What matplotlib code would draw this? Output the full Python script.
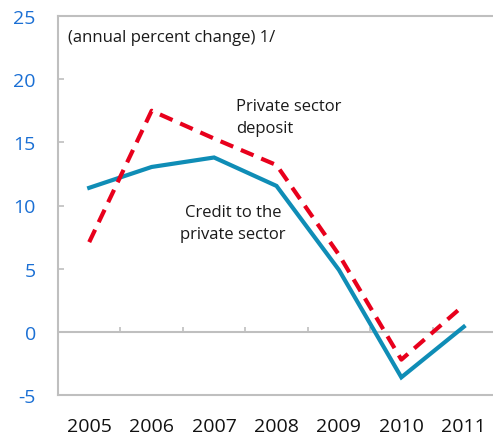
import numpy as np
import matplotlib
matplotlib.use("Agg")
import matplotlib.pyplot as plt

# annual percent change
years = ["2005", "2006", "2007", "2008", "2009", "2010", "2011"]
credit = [11.4, 13.05, 13.8, 11.55, 4.9, -3.6, 0.4]
deposit = [7.1, 17.5, 15.3, 13.2, 6.1, -2.2, 2.1]
yticks = [-5, 0, 5, 10, 15, 20, 25]

plt.rcParams["font.family"] = ["Open Sans", "DejaVu Sans"]

W, H = 493, 439
fig = plt.figure(figsize=(W / 100, H / 100), dpi=100)
ax = fig.add_axes([58 / W, (H - 396) / H, 437 / W, (396 - 17) / H])

x = np.arange(len(years))
ax.plot(x, credit, color="#0f8db6", lw=3, solid_joinstyle="miter", zorder=3)
ax.plot(x, deposit, color="#e8001c", lw=3, dashes=(3.3, 2), zorder=4)

ax.set_xlim(-0.5, len(years) - 0.5)
ax.set_ylim(-5, 25)

grey = "#bfbfbf"
for s in ax.spines.values():
    s.set_color(grey)
    s.set_linewidth(1.5)

ax.set_yticks(yticks)
ax.set_yticklabels([str(v) for v in yticks])
ax.tick_params(axis="y", direction="in", length=4, width=1.2, color=grey,
               labelcolor="#1a6fd4", labelsize=14, pad=16)
ax.set_xticks(x)
ax.set_xticklabels(years)
ax.tick_params(axis="x", length=0, labelsize=14, pad=16, labelcolor="#111111")

# zero line with small category ticks
ax.axhline(0, color=grey, lw=1.5, zorder=1)
bounds = np.arange(0.5, len(years) - 1, 1.0)
ax.vlines(bounds, 0, 0.4, color=grey, lw=1.2, zorder=1)

ax.text(0.023, 0.945, "(annual percent change) 1/", transform=ax.transAxes,
        fontsize=12, va="center", ha="left", color="#1a1a1a")
ax.text(2.35, 17.0, "Private sector\ndeposit", fontsize=12, ha="left",
        va="center", color="#1a1a1a", linespacing=1.45)
ax.text(2.3, 8.6, "Credit to the\nprivate sector", fontsize=12, ha="center",
        va="center", color="#1a1a1a", linespacing=1.45)

fig.savefig("out.png", dpi=100)
